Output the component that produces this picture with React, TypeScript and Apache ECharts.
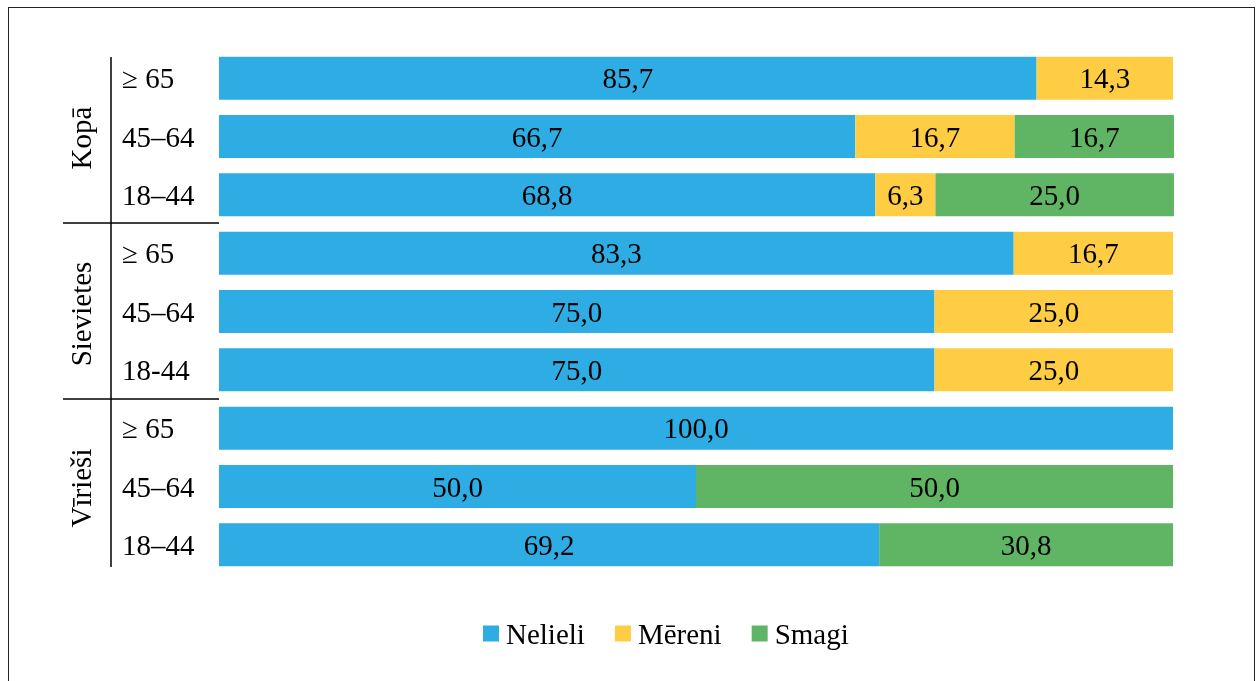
import React, { useEffect, useRef } from "react";
import * as echarts from "echarts";

const categories = ["≥ 65", "45–64", "18–44", "≥ 65", "45–64", "18-44", "≥ 65", "45–64", "18–44"];
const groups = ["Kopā", "Sievietes", "Vīrieši"];
const seriesNames = ["Nelieli", "Mēreni", "Smagi"];
const nelieli = [85.7, 66.7, 68.8, 83.3, 75.0, 75.0, 100.0, 50.0, 69.2];
const mereni = [14.3, 16.7, 6.3, 16.7, 25.0, 25.0, null, null, null];
const smagi = [null, 16.7, 25.0, null, null, null, null, 50.0, 30.8];
const colors = ["#2EADE4", "#FECD44", "#5FB564"];

const FONT = "'Liberation Serif', 'Times New Roman', serif";
const FS = 29;

export default function App() {
  const ref = useRef<HTMLDivElement>(null);
  useEffect(() => {
    if (!ref.current) return;
    const chart = echarts.init(ref.current, null, { renderer: "svg" });
    const values = [nelieli, mereni, smagi];
    const groupCenters = [138, 314, 488];
    chart.setOption({
      animation: false,
      textStyle: { fontFamily: FONT },
      grid: { left: 219, right: 83, top: 49, bottom: 107, containLabel: false },
      xAxis: {
        type: "value",
        min: 0,
        max: 100,
        show: false,
      },
      yAxis: {
        type: "category",
        inverse: true,
        data: categories,
        axisLine: { show: false },
        axisTick: { show: false },
        axisLabel: {
          align: "left",
          margin: 97,
          color: "#000",
          fontSize: FS,
          fontFamily: FONT,
        },
      },
      legend: {
        data: seriesNames,
        left: 478,
        top: 614,
        icon: "rect",
        itemWidth: 16,
        itemHeight: 16,
        itemGap: 30,
        textStyle: { fontSize: FS, color: "#000", fontFamily: FONT, padding: [0, 0, 0, 2] },
      },
      series: seriesNames.map((name, i) => ({
        name,
        type: "bar",
        stack: "total",
        barWidth: 43,
        clip: false,
        itemStyle: { color: colors[i] },
        label: {
          show: true,
          position: "inside",
          color: "#000",
          fontSize: FS,
          fontFamily: FONT,
          formatter: (p: any) => (p.value == null ? "" : Number(p.value).toFixed(1).replace(".", ",")),
        },
        data: values[i],
      })),
      graphic: [
        { type: "line", shape: { x1: 111, y1: 57, x2: 111, y2: 567 }, style: { stroke: "#000", lineWidth: 1.5 } },
        { type: "line", shape: { x1: 63, y1: 223, x2: 219, y2: 223 }, style: { stroke: "#000", lineWidth: 1.5 } },
        { type: "line", shape: { x1: 63, y1: 399, x2: 219, y2: 399 }, style: { stroke: "#000", lineWidth: 1.5 } },
        ...groups.map((g, i) => ({
          type: "text",
          x: 81,
          y: groupCenters[i],
          rotation: Math.PI / 2,
          style: {
            text: g,
            fill: "#000",
            fontSize: FS,
            fontFamily: FONT,
            align: "center",
            verticalAlign: "middle",
          },
        })),
      ],
    });
    return () => chart.dispose();
  }, []);
  return (
    <>
      <div ref={ref} style={{ position: "fixed", left: 0, top: 0, width: 1256, height: 681 }} />
      <div
        style={{
          position: "fixed",
          left: 8,
          top: 7,
          width: 1247,
          height: 700,
          border: "1.5px solid #222",
          boxSizing: "border-box",
          pointerEvents: "none",
        }}
      />
    </>
  );
}
